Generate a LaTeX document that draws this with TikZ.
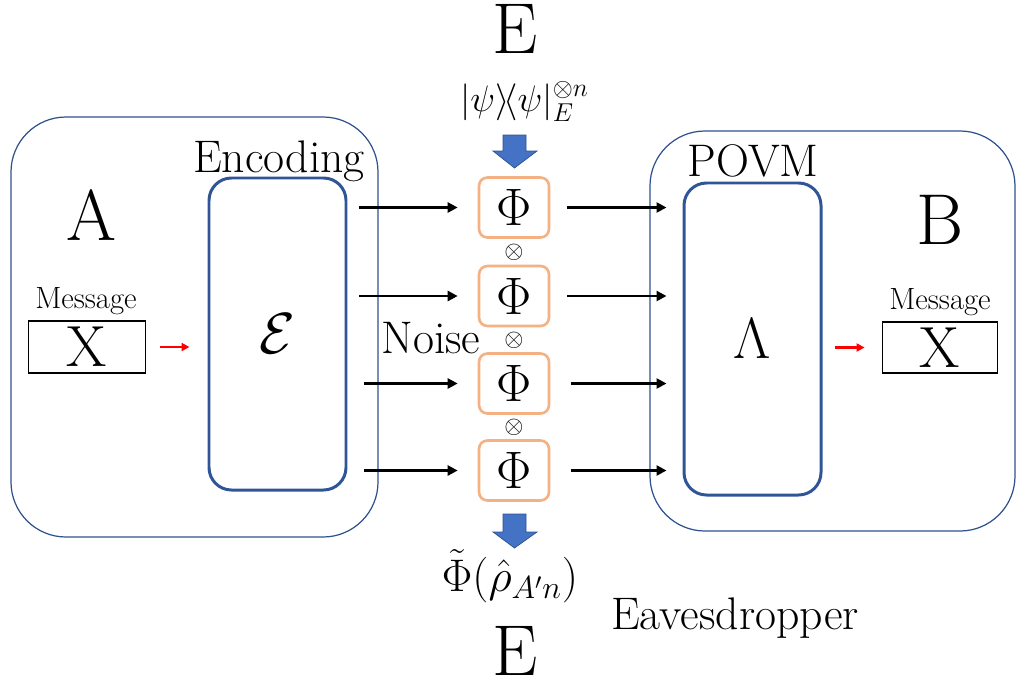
\RequirePackage{fix-cm}
\documentclass[tikz,border=0pt]{standalone}
\usepackage{amsmath}
\definecolor{partyblue}{RGB}{47, 82, 143}
\definecolor{procblue}{RGB}{47, 85, 151}
\definecolor{noiseorange}{RGB}{244, 177, 131}
\definecolor{fillblue}{RGB}{68, 114, 196}
\usetikzlibrary{arrows.meta, positioning, calc}

\begin{document}
\begin{tikzpicture}[
  partybox/.style={draw=partyblue, line width=0.7pt, rounded corners=1.1cm, minimum width=#1, minimum height=8.3cm, inner sep=0pt},
  procbox/.style={draw=procblue, line width=1.7pt, rounded corners=0.45cm, minimum width=2.74cm, minimum height=6.24cm, inner sep=0pt, font=\fontsize{33}{36}\selectfont},
  chbox/.style={draw=noiseorange, line width=1.5pt, rounded corners=0.17cm, minimum width=1.4cm, minimum height=1.2cm, inner sep=0pt, font=\fontsize{30}{32}\selectfont},
  msgbox/.style={draw, line width=1pt, minimum width=2.34cm, minimum height=1.03cm, inner sep=0pt, font=\fontsize{33}{36}\selectfont},
  biglbl/.style={anchor=base, inner sep=0pt, font=\fontsize{41}{44}\selectfont},
  lbl/.style={anchor=base, inner sep=0pt, font=\fontsize{26}{30}\selectfont},
  smalllbl/.style={anchor=base, inner sep=0pt, font=\fontsize{17.5}{20}\selectfont},
  flow/.style={-{Triangle[length=0.2cm, width=0.2cm]}, line width=1.5pt},
  redflow/.style={-{Triangle[length=0.16cm, width=0.16cm]}, line width=1.4pt, red},
  eveflow/.style={fill=fillblue, draw=partyblue, line width=0.4pt}
]
  \useasboundingbox (0,0) rectangle (20.32,-13.62);

  \node[partybox=7.34cm, minimum height=8.4cm] (partyA) at (3.89,-6.54) {};
  \node[partybox=7.3cm, minimum height=8.0cm] (partyB) at (16.65,-6.62) {};

  \node[procbox] (enc) at (5.55,-6.68) {$\mathcal{E}$};
  \node[procbox] (dec) at (15.05,-6.78) {$\Lambda$};

  \node[msgbox] (msgA) at (1.74,-6.94) {X};
  \node[msgbox, minimum width=2.3cm] (msgB) at (18.8,-6.95) {X};

  \node[biglbl] (lblA) at (1.82,-4.8) {A};
  \node[biglbl] (lblB) at (18.8,-4.88) {B};
  \node[biglbl] (eveTop) at (10.3,-1.06) {E};
  \node[biglbl] (eveBot) at (10.3,-13.5) {E};

  \node[lbl] (encLbl) at (5.58,-3.44) {Encoding};
  \node[lbl] (povmLbl) at (15.06,-3.52) {POVM};
  \node[lbl] (noiseLbl) at (8.62,-7.06) {Noise};
  \node[lbl] (eveLbl) at (14.7,-12.58) {Eavesdropper};
  \node[smalllbl] (msgLblA) at (1.72,-6.16) {Message};
  \node[smalllbl] (msgLblB) at (18.8,-6.18) {Message};

  \node[anchor=base, inner sep=0pt, font=\fontsize{21}{24}\selectfont] (envState) at (10.49,-2.22)
    {$|\psi\rangle\!\langle\psi|_E^{\otimes n}$};
  \node[anchor=base, inner sep=0pt, font=\fontsize{26}{30}\selectfont] (eveState) at (10.2,-11.83)
    {$\tilde{\Phi}(\hat{\rho}_{A'n})$};

  \foreach \i/\y in {1/-4.15, 2/-5.92, 3/-7.67, 4/-9.41} {
    \node[chbox] (ch\i) at (10.28,\y) {$\Phi$};
  }
  \foreach \i/\y in {1/-5.04, 2/-6.8, 3/-8.54} {
    \node[inner sep=0pt, font=\fontsize{14}{16}\selectfont] (tens\i) at (10.28,\y) {$\otimes$};
  }

  \foreach \i/\s in {1/0.24, 2/0.24, 3/0.34, 4/0.34} {
    \draw[flow, shorten <=\s cm, shorten >=0.4cm] (enc.east |- ch\i.west) -- (ch\i.west);
  }
  \foreach \i/\s in {1/0.34, 2/0.34, 3/0.42, 4/0.42} {
    \draw[flow, shorten <=\s cm, shorten >=0.32cm] (ch\i.east) -- (dec.west |- ch\i.east);
  }

  \draw[redflow, shorten <=0.28cm, shorten >=0.36cm] (msgA.east) -- (enc.west |- msgA.east);
  \draw[redflow, shorten <=0.24cm, shorten >=0.34cm] (dec.east |- msgB.west) -- (msgB.west);

  % eavesdropper arrows
  \draw[eveflow] (10.06,-2.7) -- (10.52,-2.7) -- (10.52,-3.02) -- (10.74,-3.02)
    -- (10.29,-3.36) -- (9.86,-3.02) -- (10.06,-3.02) -- cycle;
  \draw[eveflow] (10.06,-10.28) -- (10.52,-10.28) -- (10.52,-10.64) -- (10.74,-10.64)
    -- (10.29,-10.96) -- (9.86,-10.64) -- (10.06,-10.64) -- cycle;
\end{tikzpicture}
\end{document}
